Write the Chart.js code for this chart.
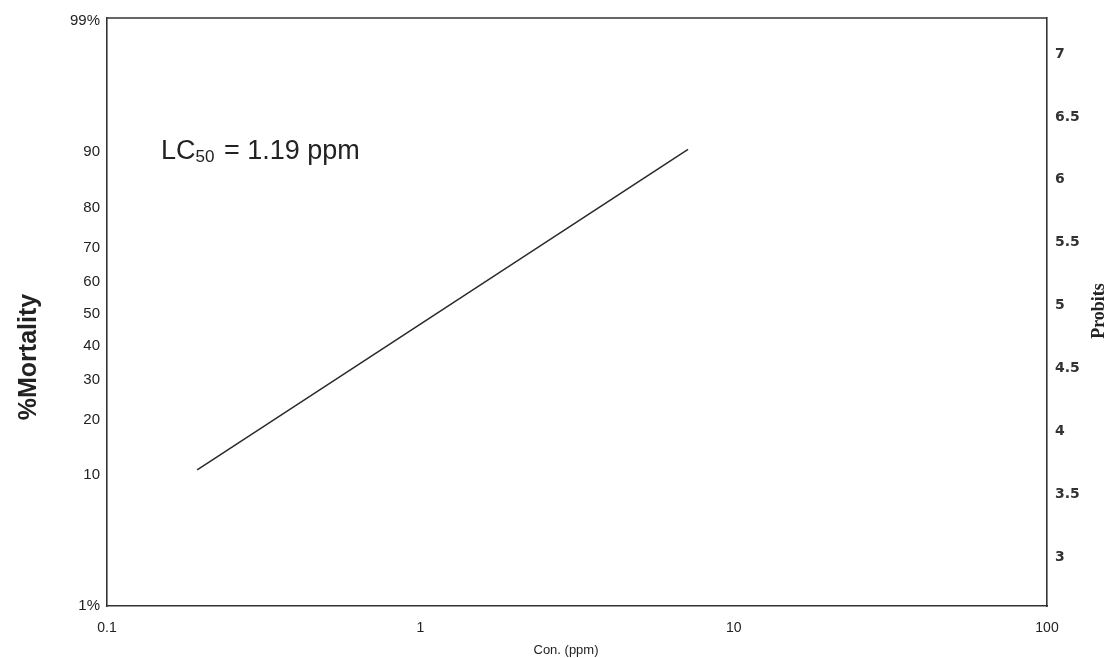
<!DOCTYPE html>
<html>
<head>
<meta charset="utf-8">
<script src="https://cdn.jsdelivr.net/npm/chart.js@4.4.1/dist/chart.umd.min.js"></script>
<style>
  html, body { margin: 0; padding: 0; background: #fff; }
  #wrap { width: 1108px; height: 658px; }
</style>
</head>
<body>
<div id="wrap"><canvas id="probitChart"></canvas></div>
<script>
// fitted probit line
const concentration = [0.194, 7.15];   // ppm
const mortality = [10.7, 90.4];        // %
const concTicks = [0.1, 1, 10, 100];
const mortalityTicks = [1, 10, 20, 30, 40, 50, 60, 70, 80, 90, 99];
const probitTicks = [3, 3.5, 4, 4.5, 5, 5.5, 6, 6.5, 7];

// inverse normal (Acklam) -> probit = 5 + z
function normInv(p) {
    const a = [-3.969683028665376e+01, 2.209460984245205e+02, -2.759285104469687e+02, 1.383577518672690e+02, -3.066479806614716e+01, 2.506628277459239e+00];
    const b = [-5.447609879822406e+01, 1.615858368580409e+02, -1.556989798598866e+02, 6.680131188771972e+01, -1.328068155288572e+01];
    const c = [-7.784894002430293e-03, -3.223964580411365e-01, -2.400758277161838e+00, -2.549732539343734e+00, 4.374664141464968e+00, 2.938163982698783e+00];
    const d = [7.784695709041462e-03, 3.224671290700398e-01, 2.445134137142996e+00, 3.754408661907416e+00];
    const pl = 0.02425;
    let q, r;
    if (p < pl) {
        q = Math.sqrt(-2 * Math.log(p));
        return (((((c[0]*q+c[1])*q+c[2])*q+c[3])*q+c[4])*q+c[5]) / ((((d[0]*q+d[1])*q+d[2])*q+d[3])*q+1);
    }
    if (p > 1 - pl) {
        q = Math.sqrt(-2 * Math.log(1 - p));
        return -(((((c[0]*q+c[1])*q+c[2])*q+c[3])*q+c[4])*q+c[5]) / ((((d[0]*q+d[1])*q+d[2])*q+d[3])*q+1);
    }
    q = p - 0.5; r = q * q;
    return (((((a[0]*r+a[1])*r+a[2])*r+a[3])*r+a[4])*r+a[5])*q / (((((b[0]*r+b[1])*r+b[2])*r+b[3])*r+b[4])*r+1);
}
const probit = pct => 5 + normInv(pct / 100);

const INK = '#222';
const LINE = '#333';
const sans = 'Liberation Sans, Arial, sans-serif';

// titles, top frame edge and the LC50 note
const decorations = {
    id: 'decorations',
    afterDraw(chart) {
        const { ctx, chartArea: area } = chart;
        ctx.save();
        ctx.strokeStyle = LINE;
        ctx.lineWidth = 1.6;
        ctx.beginPath();
        ctx.moveTo(area.left, area.top);
        ctx.lineTo(area.right, area.top);
        ctx.stroke();

        ctx.fillStyle = INK;
        ctx.textAlign = 'center';
        ctx.textBaseline = 'middle';

        // %Mortality
        ctx.save();
        ctx.translate(29, 357);
        ctx.rotate(-Math.PI / 2);
        ctx.font = 'bold 25px ' + sans;
        ctx.fillText('%Mortality', 0, 0);
        ctx.restore();

        // Probits (reads bottom to top)
        ctx.save();
        ctx.translate(1099, 311);
        ctx.rotate(-Math.PI / 2);
        ctx.font = 'bold 18px Liberation Serif, Times New Roman, serif';
        ctx.fillText('Probits', 0, 0);
        ctx.restore();

        // Con. (ppm)
        ctx.font = '13px ' + sans;
        ctx.fillText('Con. (ppm)', 566, 650);

        // LC50 = 1.19 ppm
        ctx.textAlign = 'left';
        ctx.textBaseline = 'alphabetic';
        let x = area.left + 54;
        const y = 159;
        ctx.font = '27px ' + sans;
        ctx.fillText('LC', x, y);
        x += ctx.measureText('LC').width;
        ctx.font = '17px ' + sans;
        ctx.fillText('50', x, y + 3);
        x += ctx.measureText('50').width + 2;
        ctx.font = '27px ' + sans;
        ctx.fillText(' = 1.19 ppm', x, y);
        ctx.restore();
    }
};

new Chart(document.getElementById('probitChart'), {
    type: 'scatter',
    data: {
        datasets: [{
            data: concentration.map((c, i) => ({ x: c, y: probit(mortality[i]) })),
            showLine: true,
            borderColor: '#2a2a2a',
            borderWidth: 1.5,
            pointRadius: 0,
            yAxisID: 'y'
        }]
    },
    options: {
        responsive: true,
        maintainAspectRatio: false,
        animation: false,
        layout: { padding: { top: 18, left: 0, right: 0, bottom: 0 } },
        plugins: { legend: { display: false }, tooltip: { enabled: false } },
        scales: {
            x: {
                type: 'logarithmic',
                position: 'bottom',
                min: 0.1,
                max: 100,
                afterBuildTicks: s => { s.ticks = concTicks.map(v => ({ value: v })); },
                afterFit: s => { s.height = 52; },
                ticks: {
                    autoSkip: false,
                    maxRotation: 0,
                    padding: 14,
                    color: INK,
                    font: { family: sans, size: 14 },
                    callback: v => String(v)
                },
                grid: { display: false, drawTicks: false },
                border: { color: LINE, width: 1.6 }
            },
            y: {
                type: 'linear',
                position: 'left',
                min: 2.675,
                max: 7.349,
                afterBuildTicks: s => { s.ticks = mortalityTicks.map(m => ({ value: probit(m) })); },
                afterFit: s => { s.width = 107; },
                ticks: {
                    autoSkip: false,
                    padding: 7,
                    color: INK,
                    font: { family: sans, size: 15 },
                    callback: (v, i) => {
                        const m = mortalityTicks[i];
                        return (m === 1 || m === 99) ? m + '%' : String(m);
                    }
                },
                grid: { display: false, drawTicks: false },
                border: { color: LINE, width: 1.6 }
            },
            y2: {
                type: 'linear',
                position: 'right',
                min: 2.61,
                max: 7.287,
                afterBuildTicks: s => { s.ticks = probitTicks.map(v => ({ value: v })); },
                afterFit: s => { s.width = 61; },
                ticks: {
                    autoSkip: false,
                    padding: 8,
                    color: '#333',
                    font: { family: 'DejaVu Sans, sans-serif', size: 14, weight: 'bold' },
                    callback: v => String(v)
                },
                grid: { display: false, drawTicks: false },
                border: { color: LINE, width: 1.6 }
            }
        }
    },
    plugins: [decorations]
});
</script>
</body>
</html>
